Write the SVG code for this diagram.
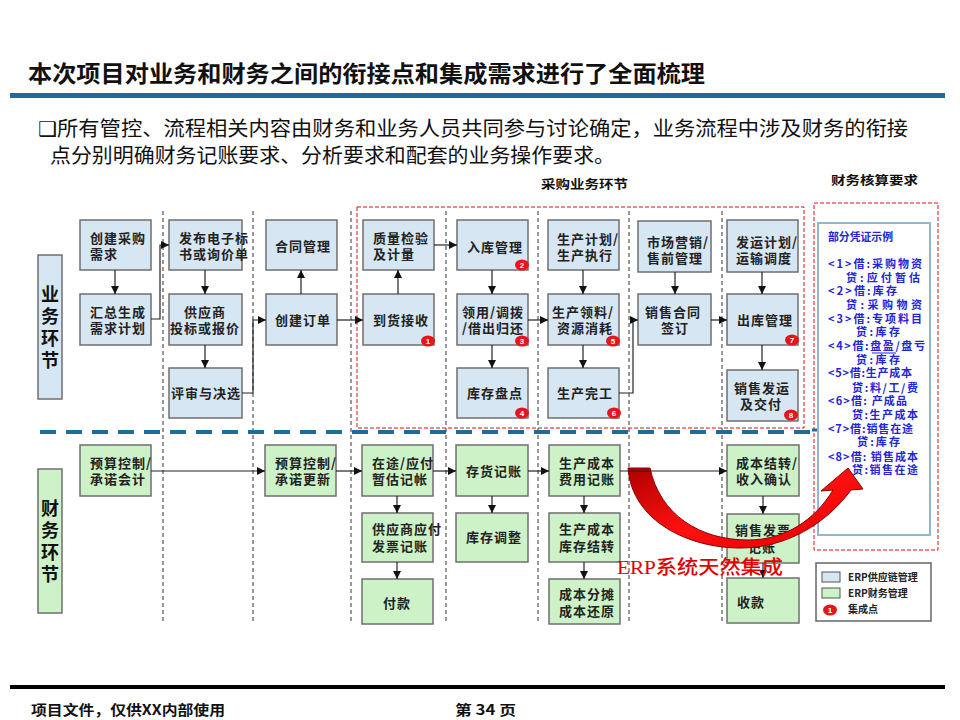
<svg xmlns="http://www.w3.org/2000/svg" width="960" height="720" viewBox="0 0 960 720">
<style>
.b{fill:#d6e6f3;stroke:#6f6f6f;stroke-width:1.5}
.g{fill:#cdf2c7;stroke:#6f6f6f;stroke-width:1.5}
.t{font-family:'Noto Sans CJK SC','Liberation Sans',sans-serif;font-size:13px;font-weight:bold;fill:#222;letter-spacing:1px}
.m{text-anchor:middle}
.c{fill:none;stroke:#222;stroke-width:1.2;marker-end:url(#ah)}
.vd{stroke:#333;stroke-width:1;stroke-dasharray:4 3}
.bd{fill:#e8141c}
.bt{font-family:'Liberation Sans',sans-serif;font-size:8px;font-weight:bold;fill:#fff;text-anchor:middle}
.p{font-family:'Noto Sans CJK SC','Liberation Sans',sans-serif;font-size:11px;font-weight:bold;fill:#2323d8}
.lg{font-family:'Noto Sans CJK SC','Liberation Sans',sans-serif;font-size:10px;font-weight:bold;fill:#222}
.ln{font-family:'Noto Sans CJK SC',sans-serif;font-size:18px;font-weight:bold;fill:#111;text-anchor:middle}
</style>
<defs>
<marker id="ah" markerUnits="userSpaceOnUse" markerWidth="8" markerHeight="8" refX="8" refY="4" orient="auto">
<path d="M0,0 L8,4 L0,8 z" fill="#111"/>
</marker>
<linearGradient id="rg" x1="0" y1="0" x2="1" y2="1">
<stop offset="0" stop-color="#b00000"/>
<stop offset="0.5" stop-color="#ff1010"/>
<stop offset="1" stop-color="#e00000"/>
</linearGradient>
</defs>
<rect width="960" height="720" fill="#fff"/>

<!-- header -->
<text x="28" y="82" font-family="'Noto Sans CJK SC',sans-serif" font-size="23" font-weight="bold" fill="#111" textLength="677" lengthAdjust="spacingAndGlyphs">本次项目对业务和财务之间的衔接点和集成需求进行了全面梳理</text>
<rect x="10" y="93" width="935" height="5" fill="#1b6c9b"/>
<text x="38" y="136" font-family="'Noto Sans CJK SC',sans-serif" font-size="20" fill="#111" textLength="870" lengthAdjust="spacingAndGlyphs"><tspan font-family="'DejaVu Sans',sans-serif">❑</tspan>所有管控、流程相关内容由财务和业务人员共同参与讨论确定，业务流程中涉及财务的衔接</text>
<text x="50" y="163" font-family="'Noto Sans CJK SC',sans-serif" font-size="20" fill="#111" textLength="565" lengthAdjust="spacingAndGlyphs">点分别明确财务记账要求、分析要求和配套的业务操作要求。</text>
<text x="541" y="189" font-family="'Noto Sans CJK SC',sans-serif" font-size="12" font-weight="bold" fill="#111" textLength="87" lengthAdjust="spacingAndGlyphs">采购业务环节</text>
<text x="831" y="185" font-family="'Noto Sans CJK SC',sans-serif" font-size="12" font-weight="bold" fill="#111" textLength="87" lengthAdjust="spacingAndGlyphs">财务核算要求</text>

<!-- frames -->
<g id="frames">
<line class="vd" x1="163" y1="211" x2="163" y2="624"/>
<line class="vd" x1="253" y1="211" x2="253" y2="624"/>
<line class="vd" x1="351" y1="211" x2="351" y2="624"/>
<line class="vd" x1="446" y1="211" x2="446" y2="624"/>
<line class="vd" x1="538" y1="211" x2="538" y2="624"/>
<line class="vd" x1="629" y1="211" x2="629" y2="624"/>
<line class="vd" x1="722" y1="211" x2="722" y2="624"/>
<rect x="357" y="207" width="447" height="221" fill="none" stroke="#d41414" stroke-width="1" stroke-dasharray="4 2"/>
<rect x="814" y="203" width="124" height="347" fill="none" stroke="#d41414" stroke-width="1" stroke-dasharray="4 2"/>
<line x1="40" y1="432" x2="812" y2="432" stroke="#1b6c9b" stroke-width="4" stroke-dasharray="16 10"/>
<line x1="812" y1="430" x2="826" y2="430" stroke="#1b6c9b" stroke-width="3"/>
</g>

<!-- lane labels -->
<g id="lane-biz">
<rect class="b" x="38" y="255" width="24" height="144"/>
<text class="ln" x="50" y="301">业</text>
<text class="ln" x="50" y="323">务</text>
<text class="ln" x="50" y="345">环</text>
<text class="ln" x="50" y="367">节</text>
</g>
<g id="lane-fin">
<rect class="g" x="38" y="469" width="24" height="144"/>
<text class="ln" x="50" y="515">财</text>
<text class="ln" x="50" y="537">务</text>
<text class="ln" x="50" y="559">环</text>
<text class="ln" x="50" y="581">节</text>
</g>

<!-- top nodes -->
<g id="n1"><rect class="b" x="80" y="220" width="71" height="50"/><text class="t" x="90" y="243">创建采购</text><text class="t" x="90" y="259">需求</text></g>
<g id="n2"><rect class="b" x="80" y="294" width="71" height="51"/><text class="t" x="90" y="317">汇总生成</text><text class="t" x="90" y="333">需求计划</text></g>
<g id="n3"><rect class="b" x="169" y="220" width="73" height="50"/><text class="t" x="179" y="243">发布电子标</text><text class="t" x="179" y="259">书或询价单</text></g>
<g id="n4"><rect class="b" x="169" y="294" width="73" height="51"/><text class="t m" x="205" y="317">供应商</text><text class="t m" x="205" y="333">投标或报价</text></g>
<g id="n5"><rect class="b" x="169" y="368" width="73" height="50"/><text class="t m" x="206" y="398">评审与决选</text></g>
<g id="n6"><rect class="b" x="266" y="220" width="71" height="50"/><text class="t m" x="303" y="251">合同管理</text></g>
<g id="n7"><rect class="b" x="266" y="294" width="71" height="51"/><text class="t m" x="303" y="325">创建订单</text></g>
<g id="n8"><rect class="b" x="363" y="220" width="71" height="50"/><text class="t" x="373" y="243">质量检验</text><text class="t" x="373" y="259">及计量</text></g>
<g id="n9"><rect class="b" x="363" y="294" width="71" height="51"/><text class="t m" x="401" y="325">到货接收</text><ellipse class="bd" cx="428" cy="341" rx="7" ry="5.5"/><text class="bt" x="428" y="344">1</text></g>
<g id="n10"><rect class="b" x="457" y="220" width="71" height="50"/><text class="t m" x="495" y="252">入库管理</text><ellipse class="bd" cx="522" cy="265" rx="7" ry="5.5"/><text class="bt" x="522" y="268">2</text></g>
<g id="n11"><rect class="b" x="457" y="294" width="71" height="51"/><text class="t" x="462" y="317">领用/调拨</text><text class="t" x="462" y="333">/借出归还</text><ellipse class="bd" cx="522" cy="341" rx="7" ry="5.5"/><text class="bt" x="522" y="344">3</text></g>
<g id="n12"><rect class="b" x="457" y="368" width="71" height="50"/><text class="t m" x="495" y="398">库存盘点</text><ellipse class="bd" cx="522" cy="413" rx="7" ry="5.5"/><text class="bt" x="522" y="416">4</text></g>
<g id="n13"><rect class="b" x="548" y="220" width="71" height="50"/><text class="t" x="557" y="244">生产计划/</text><text class="t" x="557" y="260">生产执行</text></g>
<g id="n14"><rect class="b" x="548" y="294" width="71" height="51"/><text class="t" x="552" y="317">生产领料/</text><text class="t" x="557" y="333">资源消耗</text><ellipse class="bd" cx="613" cy="341" rx="7" ry="5.5"/><text class="bt" x="613" y="344">5</text></g>
<g id="n15"><rect class="b" x="548" y="368" width="71" height="50"/><text class="t" x="557" y="398">生产完工</text><ellipse class="bd" cx="614" cy="413" rx="7" ry="5.5"/><text class="bt" x="614" y="416">6</text></g>
<g id="n16"><rect class="b" x="638" y="221" width="73" height="51"/><text class="t" x="647" y="247">市场营销/</text><text class="t" x="647" y="263">售前管理</text></g>
<g id="n17"><rect class="b" x="638" y="294" width="73" height="51"/><text class="t" x="645" y="317">销售合同</text><text class="t m" x="675" y="333">签订</text></g>
<g id="n18"><rect class="b" x="727" y="220" width="71" height="52"/><text class="t" x="736" y="247">发运计划/</text><text class="t" x="736" y="263">运输调度</text></g>
<g id="n19"><rect class="b" x="727" y="294" width="71" height="51"/><text class="t" x="737" y="325">出库管理</text><ellipse class="bd" cx="792" cy="340" rx="7" ry="5.5"/><text class="bt" x="792" y="343">7</text></g>
<g id="n20"><rect class="b" x="727" y="370" width="71" height="51"/><text class="t" x="734" y="393">销售发运</text><text class="t" x="740" y="409">及交付</text><ellipse class="bd" cx="791" cy="415" rx="7" ry="5.5"/><text class="bt" x="791" y="418">8</text></g>

<!-- bottom nodes -->
<g id="m1"><rect class="g" x="80" y="445" width="71" height="51"/><text class="t" x="90" y="468">预算控制/</text><text class="t" x="90" y="484">承诺会计</text></g>
<g id="m2"><rect class="g" x="265" y="445" width="71" height="51"/><text class="t" x="275" y="468">预算控制/</text><text class="t" x="275" y="484">承诺更新</text></g>
<g id="m3"><rect class="g" x="362" y="445" width="71" height="51"/><text class="t" x="372" y="468">在途/应付</text><text class="t" x="372" y="484">暂估记帐</text></g>
<g id="m4"><rect class="g" x="362" y="513" width="71" height="49"/><text class="t" x="372" y="534">供应商应付</text><text class="t" x="372" y="551">发票记账</text></g>
<g id="m5"><rect class="g" x="362" y="579" width="71" height="45"/><text class="t m" x="397" y="608">付款</text></g>
<g id="m6"><rect class="g" x="456" y="445" width="72" height="51"/><text class="t" x="466" y="476">存货记账</text></g>
<g id="m7"><rect class="g" x="456" y="513" width="72" height="49"/><text class="t" x="466" y="542">库存调整</text></g>
<g id="m8"><rect class="g" x="549" y="445" width="71" height="51"/><text class="t" x="559" y="468">生产成本</text><text class="t" x="559" y="484">费用记账</text></g>
<g id="m9"><rect class="g" x="549" y="513" width="71" height="49"/><text class="t" x="559" y="534">生产成本</text><text class="t" x="559" y="551">库存结转</text></g>
<g id="m10"><rect class="g" x="549" y="579" width="71" height="45"/><text class="t" x="559" y="599">成本分摊</text><text class="t" x="559" y="616">成本还原</text></g>
<g id="m11"><rect class="g" x="727" y="445" width="72" height="51"/><text class="t" x="736" y="468">成本结转/</text><text class="t" x="736" y="484">收入确认</text></g>
<g id="m12"><rect class="g" x="727" y="514" width="72" height="49"/><text class="t" x="735" y="535">销售发票</text><text class="t" x="748" y="552">记账</text></g>
<g id="m13"><rect class="g" x="727" y="578" width="72" height="45"/><text class="t" x="737" y="607">收款</text></g>

<!-- voucher panel -->
<g id="vouchers">
<rect x="818" y="223" width="112" height="312" fill="#fff" stroke="#8fb8d6" stroke-width="2"/>
<text class="p" x="828" y="241" textLength="65" lengthAdjust="spacingAndGlyphs">部分凭证示例</text>
<text class="p" x="828" y="268" textLength="94">&lt;1&gt;借:采购物资</text>
<text class="p" x="846" y="282" textLength="74">贷:应付暂估</text>
<text class="p" x="828" y="295" textLength="69">&lt;2&gt;借:库存</text>
<text class="p" x="846" y="309" textLength="76">贷:采购物资</text>
<text class="p" x="828" y="323" textLength="94">&lt;3&gt;借:专项料目</text>
<text class="p" x="856" y="336" textLength="44">贷:库存</text>
<text class="p" x="828" y="350" textLength="97">&lt;4&gt;借:盘盈/盘亏</text>
<line x1="872" y1="353" x2="896" y2="353" stroke="#2323d8" stroke-width="1"/>
<text class="p" x="856" y="364" textLength="44">贷:库存</text>
<text class="p" x="828" y="377" textLength="84">&lt;5&gt;借:生产成本</text>
<text class="p" x="852" y="392" textLength="66">贷:料/工/费</text>
<text class="p" x="828" y="405" textLength="79">&lt;6&gt;借: 产成品</text>
<text class="p" x="852" y="419" textLength="66">贷:生产成本</text>
<text class="p" x="828" y="433" textLength="85">&lt;7&gt;借:销售在途</text>
<text class="p" x="857" y="446" textLength="43">贷:库存</text>
<text class="p" x="828" y="461" textLength="90">&lt;8&gt;借: 销售成本</text>
<text class="p" x="852" y="474" textLength="66">贷:销售在途</text>
</g>

<!-- legend -->
<g id="legend">
<rect x="816" y="563" width="115" height="58" fill="#fff" stroke="#666" stroke-width="1.5"/>
<rect x="822" y="572" width="18" height="10" fill="#d6e6f3" stroke="#555"/>
<text class="lg" x="848" y="581">ERP供应链管理</text>
<rect x="822" y="588" width="18" height="10" fill="#cdf2c7" stroke="#555"/>
<text class="lg" x="848" y="597">ERP财务管理</text>
<ellipse cx="830" cy="610" rx="7" ry="5.5" fill="#e8141c"/>
<text x="830" y="613" class="bt" font-size="6">1</text>
<text class="lg" x="848" y="613">集成点</text>
</g>

<!-- red integration arrow -->
<g id="erp-arrow">
<path d="M628,468 C632,522 690,548 740,548 C786,548 826,524 851,490 L863,489 L848,468 L821,491 L833,490 C815,520 785,540 748,540 C700,540 660,515 650,468 Z" fill="url(#rg)" stroke="#8b0000" stroke-width="1"/>
</g>

<!-- connectors -->
<g id="connectors">
<path class="c" d="M115,270 V294"/>
<path class="c" d="M151,319 H160 V245 H169"/>
<path class="c" d="M205,270 V294"/>
<path class="c" d="M205,345 V368"/>
<path class="c" d="M242,393 H253 V320 H266"/>
<path class="c" d="M301,294 V270"/>
<path class="c" d="M337,320 H363"/>
<path class="c" d="M398,294 V270"/>
<path class="c" d="M434,245 H457"/>
<path class="c" d="M492,270 V294"/>
<path class="c" d="M492,345 V368"/>
<path class="c" d="M528,320 H548"/>
<path class="c" d="M583,270 V294"/>
<path class="c" d="M583,345 V368"/>
<path class="c" d="M619,393 H633 V320 H638"/>
<path class="c" d="M675,272 V294"/>
<path class="c" d="M711,320 H727"/>
<path class="c" d="M762,272 V294"/>
<path class="c" d="M762,345 V370"/>
<path class="c" d="M151,471 H265"/>
<path class="c" d="M336,471 H362"/>
<path class="c" d="M397,496 V513"/>
<path class="c" d="M397,562 V579"/>
<path class="c" d="M433,471 H456"/>
<path class="c" d="M492,496 V513"/>
<path class="c" d="M528,471 H549"/>
<path class="c" d="M584,496 V513"/>
<path class="c" d="M584,562 V579"/>
<path class="c" d="M620,471 H727"/>
<path class="c" d="M763,496 V514"/>
<path class="c" d="M763,563 V578"/>
</g>

<text x="617" y="574" font-family="'Liberation Serif','Noto Sans CJK SC',serif" font-size="19" font-weight="500" fill="#e00000" textLength="166" lengthAdjust="spacingAndGlyphs">ERP系统天然集成</text>

<!-- footer -->
<rect x="10" y="685" width="935" height="4" fill="#000"/>
<text x="31" y="715" font-family="'Noto Sans CJK SC',sans-serif" font-size="14" font-weight="bold" fill="#111" textLength="194" lengthAdjust="spacingAndGlyphs">项目文件，仅供XX内部使用</text>
<text x="455" y="715" font-family="'Noto Sans CJK SC',sans-serif" font-size="14" font-weight="bold" fill="#111" textLength="61" lengthAdjust="spacingAndGlyphs">第 34 页</text>
</svg>
